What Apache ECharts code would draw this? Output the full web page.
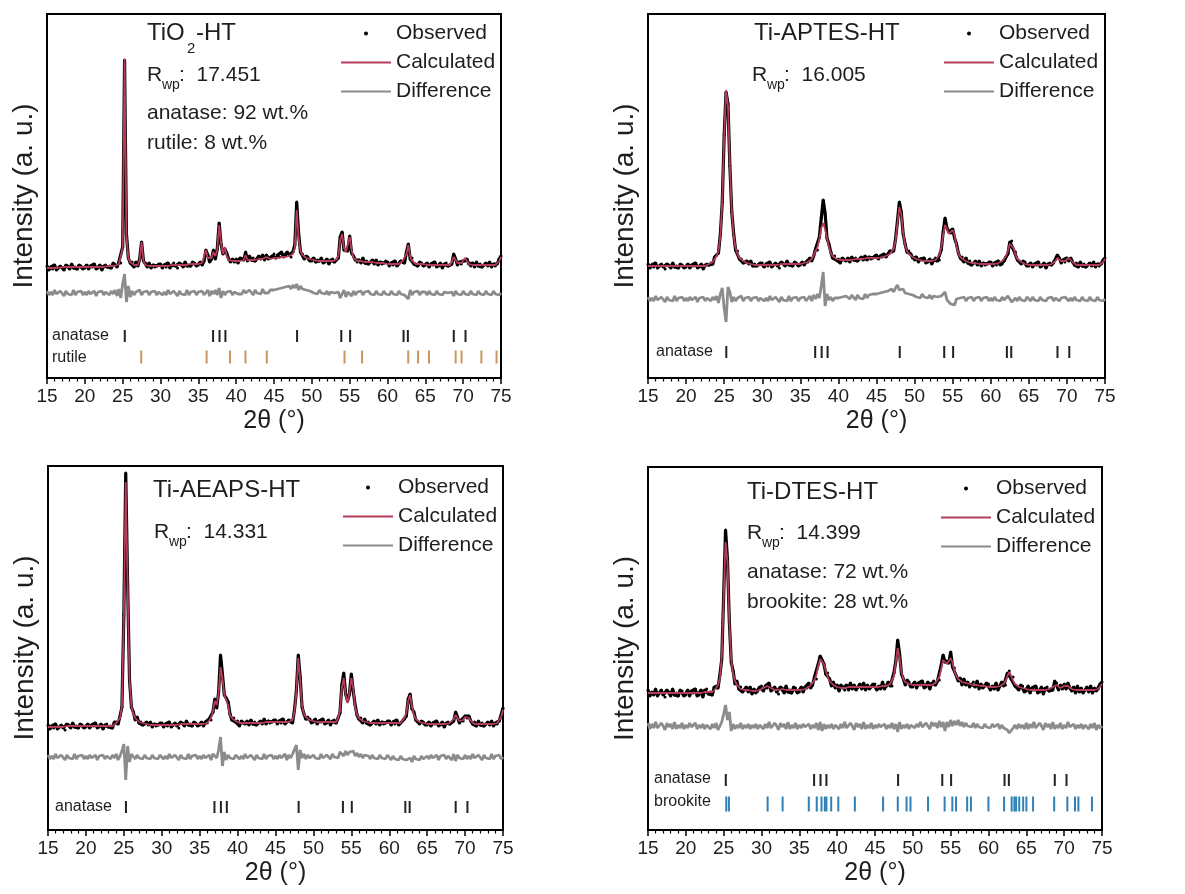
<!DOCTYPE html>
<html><head><meta charset="utf-8">
<script src="https://cdn.jsdelivr.net/npm/echarts@6/dist/echarts.min.js"></script>
<style>html,body{margin:0;padding:0;background:#fff}#c{width:1185px;height:894px}</style>
</head><body><div id="c"></div>
<script>
// sampling grid of 2θ (degrees)
const startDeg = 15, stepDeg = 0.25;

// reflection positions (2θ)
const anatasePeaks = [25.28,36.95,37.80,38.58,48.05,53.89,55.06,62.12,62.69,68.76,70.31];
const rutilePeaks = [27.45,36.09,39.19,41.23,44.05,54.32,56.64,62.74,64.04,65.48,69.01,69.79,72.41,74.41];
const brookitePeaks = [25.34,25.69,30.81,32.79,36.25,37.30,37.93,38.37,38.58,39.21,40.15,42.34,46.07,48.01,49.17,49.69,52.01,54.20,55.22,55.71,57.18,57.68,59.99,62.06,63.06,63.42,63.65,64.06,64.58,65.01,65.89,68.68,70.42,71.43,71.88,73.67];

// ---------- TiO2-HT ----------
const calc1 = [110,110,110,110,110,110,110,110,111,111,111,111,111,111,111,111,111,111,111,111,
111,111,111,111,111,111,111,111,111,111,111,111,112,112,112,112,112,113,114,116,
130,319,142,120,116,114,113,113,113,118,136,117,113,112,112,112,112,112,112,112,
112,112,112,112,112,112,113,113,113,113,113,113,113,113,113,113,114,114,114,114,
114,114,115,116,128,120,118,120,126,122,128,153,135,124,131,122,118,118,117,117,
117,117,117,118,118,123,118,118,118,118,118,118,119,119,119,119,121,119,119,119,
120,120,120,121,121,121,121,122,122,122,124,130,168,140,127,123,121,120,120,119,
118,118,118,117,117,117,117,117,117,117,117,117,117,118,122,138,144,130,126,128,
141,128,120,118,117,116,117,117,116,116,116,116,116,115,115,115,115,115,115,115,
114,114,114,114,114,114,114,115,117,118,124,133,121,117,115,114,114,114,114,114,
114,113,113,113,113,113,113,113,113,113,113,113,113,113,116,121,118,115,114,115,
116,120,117,114,113,113,113,113,113,113,113,113,113,113,113,113,113,113,114,117,121];
const obs1 = [112,108,111,109,113,108,110,112,110,108,113,112,109,114,110,111,109,113,112,109,
110,113,109,112,111,114,109,110,113,108,112,113,111,112,110,115,113,111,116,115,
131,318,144,120,115,116,111,116,112,119,136,117,115,111,115,110,113,111,112,114,
114,110,113,111,115,110,113,115,112,110,115,114,111,116,112,113,112,116,115,112,
113,116,113,117,128,123,116,119,128,119,129,155,134,124,129,125,119,116,119,116,
119,115,120,119,118,126,117,122,118,120,117,119,122,119,123,118,123,119,120,122,
124,120,123,121,126,121,123,126,123,121,126,133,176,145,126,124,119,122,121,117,
117,120,116,118,117,120,115,116,119,114,118,119,116,118,120,141,146,128,128,127,
142,125,122,118,116,118,115,120,115,117,114,116,118,114,118,113,116,114,115,117,
116,112,115,113,117,112,114,117,116,115,126,134,119,120,114,114,112,116,115,112,
113,115,111,114,113,116,111,112,115,110,114,115,112,113,114,124,119,113,116,114,
117,117,119,114,112,115,111,116,112,114,111,113,115,112,116,111,114,112,114,119,122];
const diff1 = [87,83,86,83,88,84,83,87,85,82,87,84,86,83,88,83,86,84,87,83,
86,83,87,84,85,87,82,86,84,87,83,86,85,83,87,84,88,82,89,80,
94,104,76,92,81,87,83,86,84,88,83,86,84,87,83,86,84,87,83,86,
87,83,86,83,88,84,83,87,85,82,87,84,86,83,88,83,86,84,87,83,
86,84,87,83,85,88,82,87,84,88,83,90,80,87,83,86,84,87,83,86,
87,84,86,84,88,85,84,88,86,83,88,85,87,84,89,85,87,85,88,86,
88,86,89,87,90,88,91,89,92,89,93,90,94,88,92,89,91,88,90,87,
88,85,87,84,88,85,86,84,87,83,86,84,85,83,86,80,82,88,81,86,
84,82,87,83,86,84,87,83,86,84,87,84,86,83,87,84,86,83,87,84,
86,83,87,84,86,83,87,84,85,83,84,79,88,83,86,84,87,83,86,84,
86,83,87,84,86,83,87,84,85,83,86,84,85,83,86,82,87,84,86,83,
87,84,86,83,87,84,86,83,87,84,86,83,87,84,86,83,87,84,86,83,85];

// ---------- Ti-APTES-HT ----------
const calc2 = [112,112,112,112,112,112,112,112,112,112,112,112,112,112,112,112,112,112,112,112,
112,112,112,112,112,112,112,112,112,112,112,112,114,115,116,118,122,127,142,177,
242,288,272,212,167,142,130,124,120,118,117,116,115,115,114,114,113,113,113,113,
113,113,113,113,113,113,113,113,113,113,114,114,114,114,114,114,114,114,114,114,
114,114,115,115,116,117,119,123,127,131,139,150,155,149,140,131,125,122,120,119,
118,118,118,118,118,118,118,118,119,119,119,119,119,119,119,120,120,120,120,120,
120,120,121,121,122,122,123,124,126,129,137,155,171,164,145,133,127,124,122,121,
119,119,118,118,118,117,117,117,117,117,117,118,120,123,130,143,153,149,144,146,
148,143,132,125,121,119,118,117,116,116,115,115,115,114,114,114,114,114,114,114,
114,114,114,114,115,115,117,119,122,127,134,136,130,123,119,117,116,115,114,114,
113,113,113,113,113,113,113,113,113,113,113,113,114,115,117,120,119,117,116,117,
119,120,118,116,114,113,113,113,113,113,113,113,113,113,113,113,113,113,114,116,119];
const obs2 = [114,110,113,111,115,110,112,114,111,109,114,113,110,115,111,112,110,114,113,110,
111,114,110,113,112,115,110,111,114,109,113,114,113,115,114,121,123,125,144,176,
243,286,274,212,166,144,128,127,119,119,115,116,117,114,117,112,114,112,113,115,
115,111,114,112,116,111,113,115,112,110,116,115,112,117,113,114,112,116,115,112,
113,116,113,116,116,120,117,122,129,128,141,160,178,165,140,134,126,120,122,118,
119,115,120,118,117,120,116,121,118,120,117,119,121,118,122,118,121,119,120,122,
123,119,122,121,124,121,124,127,126,127,139,157,176,166,144,134,126,127,124,120,
118,121,116,119,118,120,115,116,119,114,118,120,117,118,128,146,160,150,146,145,
149,140,134,125,120,121,116,120,115,117,113,115,117,113,117,112,115,113,114,116,
116,112,115,113,117,113,114,117,121,124,136,137,128,126,118,117,114,117,116,112,
112,115,111,114,113,116,111,112,115,110,114,115,113,115,119,123,120,115,118,116,
120,117,120,116,113,115,111,116,112,114,111,113,115,112,116,111,114,112,114,118,120];
const diff2 = [81,77,80,77,82,78,77,81,79,76,81,78,80,77,82,77,80,78,81,77,
80,77,81,78,79,81,76,80,78,81,77,80,79,77,81,78,82,75,84,90,
70,56,91,86,76,81,77,80,78,82,77,80,78,81,77,80,78,81,77,80,
81,77,80,77,82,78,77,81,79,76,81,78,80,77,82,77,80,78,81,77,
80,78,81,77,79,82,77,83,79,84,80,92,106,72,84,78,81,77,80,78,
80,78,81,79,82,80,79,83,81,78,83,80,82,79,84,80,83,81,84,82,
84,82,85,83,86,84,87,85,89,86,90,93,88,86,89,85,87,84,86,83,
84,81,83,80,84,81,82,80,83,79,82,80,81,79,82,84,86,78,80,74,
76,73,79,77,80,78,81,77,80,78,81,77,80,78,81,77,80,78,81,77,
80,77,81,78,80,77,81,78,79,82,80,76,78,80,77,81,78,80,77,81,
80,77,81,78,80,77,81,78,79,77,80,78,81,77,80,82,77,80,78,81,
79,77,80,77,81,78,80,77,81,78,80,77,81,78,80,77,81,78,80,77,79];

// ---------- Ti-AEAPS-HT ----------
const calc3 = [103,103,103,103,103,103,103,103,103,103,104,104,104,104,104,104,104,104,104,104,
104,104,104,104,104,104,104,104,104,104,104,104,104,104,104,105,107,108,112,124,
214,348,244,150,124,116,112,110,108,107,107,106,106,106,105,105,105,105,105,105,
105,105,105,105,105,105,105,105,105,105,106,106,106,106,106,106,106,106,106,106,
106,106,106,107,107,108,112,119,129,125,137,163,152,135,134,125,115,112,110,109,
108,107,107,107,107,107,107,107,107,107,107,107,107,107,108,108,108,108,108,108,
108,108,108,108,108,108,108,108,109,110,118,138,172,150,124,116,113,111,110,109,
109,109,108,108,108,108,108,108,108,108,108,108,108,112,119,142,152,135,127,137,
152,142,123,115,112,110,109,108,108,107,107,107,107,107,107,107,107,107,107,107,
107,107,107,107,107,107,107,107,112,117,129,135,123,115,111,109,108,107,107,107,
106,106,106,106,106,106,106,106,106,106,106,106,107,108,111,115,112,109,108,110,
113,115,112,109,107,106,106,106,106,106,106,106,106,106,106,106,106,107,109,113,120];
const obs3 = [105,101,104,102,106,101,103,105,102,100,106,105,102,107,103,104,102,106,105,102,
103,106,102,105,104,107,102,103,106,101,105,106,103,104,102,108,108,106,114,123,
215,357,246,150,123,118,110,113,107,108,105,106,108,105,108,103,106,104,105,107,
107,103,106,104,108,103,105,107,104,102,108,107,104,109,105,106,104,108,107,104,
105,108,104,108,107,111,110,118,131,122,138,175,156,135,132,128,116,110,112,108,
109,104,109,107,106,109,105,110,106,108,105,107,109,106,111,106,109,107,108,110,
110,106,109,107,111,106,108,110,108,107,120,139,175,153,123,116,111,113,111,107,
108,111,106,109,108,111,106,107,110,105,109,110,107,112,117,145,157,136,129,136,
156,139,125,115,111,112,107,111,107,108,105,107,109,106,110,105,108,106,107,109,
109,105,108,106,110,105,107,109,111,114,131,136,121,118,110,109,106,109,108,105,
105,108,104,107,106,109,104,105,108,103,107,108,106,108,109,118,113,107,110,109,
114,112,114,109,106,108,104,109,105,107,104,106,108,105,109,104,107,106,109,115,122];
const diff3 = [75,71,74,71,76,72,71,75,73,70,75,72,74,71,76,71,74,72,75,71,
74,71,75,72,73,75,70,74,72,75,71,74,73,71,75,72,76,70,74,79,
86,50,84,68,76,74,71,75,72,74,71,75,72,74,71,75,72,74,71,75,
75,71,74,71,76,72,71,75,73,70,75,72,74,71,76,71,74,72,75,71,
74,71,75,72,73,75,70,76,78,72,80,93,64,78,70,75,72,74,71,75,
75,71,74,71,76,72,71,75,73,70,75,72,74,71,76,71,74,72,75,71,
74,71,75,72,73,76,70,75,72,76,78,85,60,80,72,76,71,75,72,74,
75,72,74,71,76,72,73,75,74,71,76,73,75,72,78,80,74,79,75,78,
76,79,74,77,73,76,72,75,73,74,71,75,72,74,71,75,72,74,71,75,
73,70,74,71,73,70,74,71,72,70,69,72,68,74,71,73,70,74,71,73,
74,71,75,72,73,75,70,74,72,75,71,74,73,70,76,69,75,72,74,71,
75,71,74,71,76,72,71,75,73,70,75,72,74,71,76,71,74,72,75,71,73];

// ---------- Ti-DTES-HT ----------
const calc4 = [137,137,137,137,137,137,137,137,137,137,137,137,137,137,137,137,137,137,137,137,
137,137,137,137,137,137,137,137,137,137,138,138,138,138,138,139,142,145,152,173,
233,288,268,208,170,156,149,145,143,141,141,140,140,140,139,139,139,139,139,140,
141,142,143,144,143,142,141,140,140,140,140,141,140,140,140,140,140,140,140,140,
140,140,141,141,142,143,145,147,150,155,164,171,172,166,159,153,149,147,145,144,
143,143,142,142,142,142,143,143,143,143,143,143,143,143,143,143,143,143,143,143,
143,143,143,143,144,144,144,145,146,148,154,168,182,172,158,151,148,147,146,146,
145,145,145,145,145,145,145,145,145,145,145,146,147,149,153,161,170,171,166,169,
172,167,159,154,151,149,148,147,147,146,146,146,145,145,145,144,144,144,144,144,
143,143,143,143,143,143,144,145,146,149,154,158,154,149,146,144,143,142,142,141,
141,141,140,140,140,140,140,140,140,140,140,140,141,141,143,145,145,143,142,143,
144,145,144,142,141,140,140,140,140,140,140,140,140,140,140,140,140,141,141,143,146];
const obs4 = [140,134,138,135,141,134,137,140,135,133,140,138,134,141,135,137,134,140,139,134,
135,140,134,139,137,141,134,135,140,133,140,141,136,138,135,143,144,142,155,171,
235,300,271,208,168,159,146,149,141,143,138,140,143,138,143,136,141,137,139,143,
144,139,144,142,147,139,141,143,138,136,143,142,137,144,138,140,137,143,142,137,
138,143,138,143,142,147,142,145,153,151,166,174,170,166,156,157,151,144,148,142,
145,139,145,142,140,145,140,147,141,145,140,143,146,141,147,140,145,141,143,146,
146,140,144,141,148,141,144,148,144,144,157,169,190,176,156,151,145,150,148,143,
143,148,142,147,145,149,142,143,148,141,147,149,145,149,150,165,175,168,169,167,
178,163,162,154,149,152,145,151,145,148,143,146,148,143,149,141,146,142,144,147,
146,140,144,141,147,140,144,148,144,145,157,159,151,153,144,144,140,145,144,138,
139,144,137,142,140,144,137,138,143,136,142,143,139,141,140,149,147,140,145,141,
146,141,147,142,139,143,137,144,138,142,137,140,143,138,144,137,142,139,141,146,148];
const diff4 = [107,101,106,102,108,102,101,107,104,100,107,103,106,101,108,101,105,102,107,101,
105,102,107,103,104,107,101,105,102,106,101,105,104,101,106,102,107,100,104,108,
116,125,110,118,99,106,101,105,102,107,101,105,102,106,101,105,102,106,101,105,
107,101,106,102,108,102,101,107,104,100,107,103,106,101,108,101,105,102,107,101,
105,102,106,103,104,106,101,105,102,107,100,108,99,106,101,105,102,106,101,105,
107,101,106,102,108,102,101,107,104,100,107,103,106,101,108,101,105,102,107,101,
105,102,106,103,104,106,101,105,102,107,101,106,98,108,101,105,102,106,101,105,
107,102,106,103,108,103,102,107,105,101,108,104,107,102,109,103,108,99,108,103,
110,104,109,105,110,104,108,103,107,104,106,103,107,102,106,103,105,102,106,103,
105,102,106,103,104,106,101,105,102,104,100,97,98,102,105,101,106,102,105,101,
107,101,106,102,108,102,101,107,104,100,107,103,106,101,108,101,105,102,107,101,
105,102,108,103,104,106,101,105,102,106,101,105,104,101,106,102,107,100,105,102,104];

// ---------- layout / style ----------
const FONT = '"Liberation Sans", Arial, Helvetica, sans-serif';
const TXT = '#1e1e1e';
const CALC_COLOR = '#b43c5a', DIFF_COLOR = '#8c8c8c';
const ANA_COLOR = '#222222', RUT_COLOR = '#c9975c', BRO_COLOR = '#3080b8';

const panels = [
  {grid:{left:47, top:14, width:454, height:364}, ymax:364, obs:obs1, calc:calc1, diff:diff1,
   rows:[{peaks:anatasePeaks, y:42, h:12, color:ANA_COLOR},{peaks:rutilePeaks, y:21, h:13, color:RUT_COLOR}],
   legend:{left:340, top:23}},
  {grid:{left:648, top:14, width:457, height:364}, ymax:364, obs:obs2, calc:calc2, diff:diff2,
   rows:[{peaks:anatasePeaks, y:26, h:12, color:ANA_COLOR}],
   legend:{left:943, top:23}},
  {grid:{left:48, top:466, width:455, height:364}, ymax:364, obs:obs3, calc:calc3, diff:diff3,
   rows:[{peaks:anatasePeaks, y:23, h:12, color:ANA_COLOR}],
   legend:{left:342, top:477}},
  {grid:{left:648, top:467, width:454, height:363}, ymax:363, obs:obs4, calc:calc4, diff:diff4,
   rows:[{peaks:anatasePeaks, y:50, h:12, color:ANA_COLOR},{peaks:brookitePeaks, y:26, h:15, color:BRO_COLOR}],
   legend:{left:940, top:478}}
];

function pts(arr){ return arr.map((v,i)=>[startDeg + i*stepDeg, v]); }

const hidden = {color:'rgba(0,0,0,0)', borderColor:'rgba(0,0,0,0)', borderWidth:0, opacity:0};
const grids=[], xAxes=[], yAxes=[], series=[], legends=[];
panels.forEach((p,k)=>{
  grids.push(Object.assign({show:true, borderColor:'#000', borderWidth:2, backgroundColor:'rgba(0,0,0,0)'}, p.grid));
  xAxes.push({gridIndex:k, type:'value', min:15, max:75, interval:5,
    axisLine:{show:true, lineStyle:{color:'#000', width:2}},
    axisTick:{show:true, length:6, lineStyle:{color:'#000', width:1.5}},
    minorTick:{show:true, splitNumber:5, length:3.5, lineStyle:{color:'#000', width:1.2}},
    axisLabel:{fontSize:19, color:TXT, fontFamily:FONT, margin:9},
    splitLine:{show:false},
    name:'2θ (°)', nameLocation:'middle', nameGap:31,
    nameTextStyle:{fontSize:25, color:TXT, fontFamily:FONT}});
  yAxes.push({gridIndex:k, type:'value', min:0, max:p.ymax,
    axisLine:{show:false}, axisTick:{show:false}, axisLabel:{show:false}, splitLine:{show:false},
    name:'Intensity (a. u.)', nameLocation:'middle', nameRotate:90, nameGap:9,
    nameTextStyle:{fontSize:28, color:TXT, fontFamily:FONT}});
  series.push({type:'line', name:'Observed', xAxisIndex:k, yAxisIndex:k, data:pts(p.obs),
    symbol:'circle', symbolSize:3, showSymbol:true, showAllSymbol:true,
    lineStyle:{color:'#000', width:3.2}, itemStyle:{color:'#000', opacity:1}, silent:true, z:2});
  series.push({type:'line', name:'Calculated', xAxisIndex:k, yAxisIndex:k, data:pts(p.calc),
    symbol:'none', lineStyle:{color:CALC_COLOR, width:1.8}, itemStyle:{color:CALC_COLOR}, silent:true, z:3});
  series.push({type:'line', name:'Difference', xAxisIndex:k, yAxisIndex:k, data:pts(p.diff),
    symbol:'none', lineStyle:{color:DIFF_COLOR, width:2.8}, itemStyle:{color:DIFF_COLOR}, silent:true, z:2});
  p.rows.forEach((r,j)=>{
    series.push({type:'scatter', name:'phase'+k+'_'+j, xAxisIndex:k, yAxisIndex:k,
      data:r.peaks.map(x=>[x, r.y]), symbol:'rect', symbolSize:[2, r.h],
      itemStyle:{color:r.color, opacity:1}, silent:true, z:2});
  });
  legends.push({orient:'vertical', left:p.legend.left, top:p.legend.top, padding:0,
    itemWidth:50, itemHeight:4, itemGap:8,
    textStyle:{fontSize:21, color:TXT, fontFamily:FONT},
    data:[{name:'Observed', icon:'circle'},
          {name:'Calculated', itemStyle:hidden},
          {name:'Difference', itemStyle:hidden}],
    selectedMode:false});
});

function t(x,y,text,size){ return {type:'text', x:x, y:y, silent:true,
  style:{text:text, fontSize:size, fontFamily:FONT, fill:TXT, align:'left', verticalAlign:'middle'}}; }

const graphics = [
  // TiO2-HT
  t(147,33,'TiO',24), t(187,49,'2',15), t(196,33,'-HT',24),
  t(147,75,'R',21), t(162,85,'wp',14), t(179,75,':  17.451',21),
  t(147,113,'anatase: 92 wt.%',21), t(147,143,'rutile: 8 wt.%',21),
  t(52,336,'anatase',16), t(52,358,'rutile',16),
  // Ti-APTES-HT
  t(754,33,'Ti-APTES-HT',24),
  t(752,75,'R',21), t(767,85,'wp',14), t(784,75,':  16.005',21),
  t(656,352,'anatase',16),
  // Ti-AEAPS-HT
  t(153,490,'Ti-AEAPS-HT',24),
  t(154,532,'R',21), t(169,542,'wp',14), t(186,532,':  14.331',21),
  t(55,807,'anatase',16),
  // Ti-DTES-HT
  t(747,492,'Ti-DTES-HT',24),
  t(747,533,'R',21), t(762,543,'wp',14), t(779,533,':  14.399',21),
  t(747,572,'anatase: 72 wt.%',21), t(747,602,'brookite: 28 wt.%',21),
  t(654,779,'anatase',16), t(654,802,'brookite',16)
];

const chart = echarts.init(document.getElementById('c'), null, {renderer:'canvas'});
chart.setOption({
  animation:false, backgroundColor:'#fff',
  grid:grids, xAxis:xAxes, yAxis:yAxes, series:series, legend:legends, graphic:graphics
});
</script></body></html>
